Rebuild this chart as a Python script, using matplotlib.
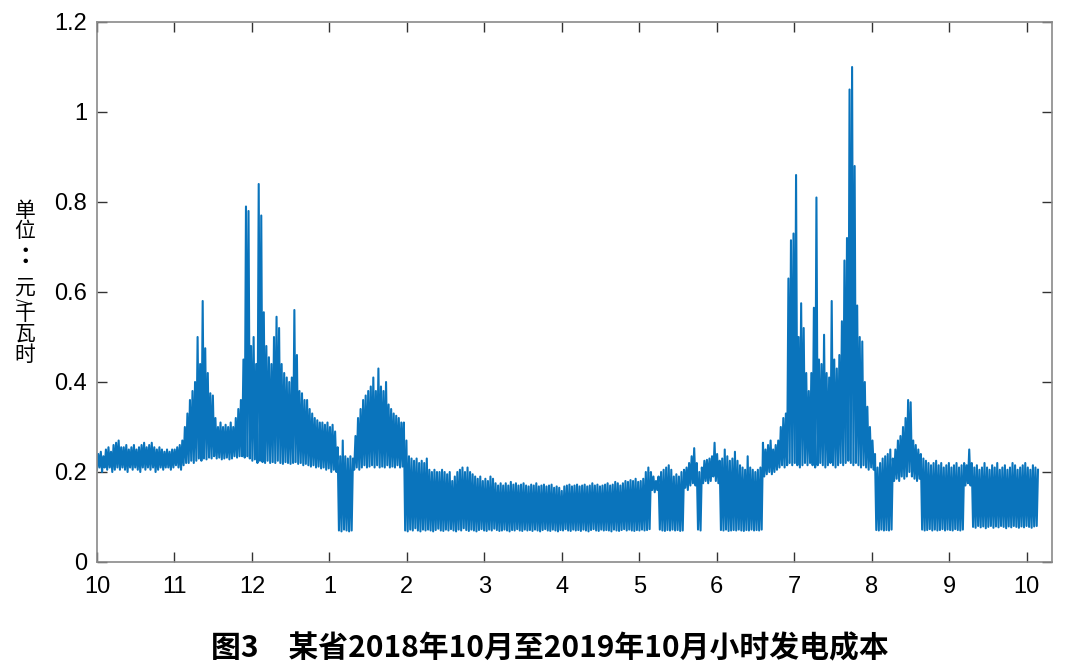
import numpy as np
import matplotlib
matplotlib.use("Agg")
import matplotlib.pyplot as plt

# daily peak / trough of hourly generation cost, Oct 2018 -> Oct 2019 (元/千瓦时)
daily_high = [
    0.24, 0.245, 0.235, 0.25, 0.255, 0.245, 0.26, 0.265, 0.27, 0.255,
    0.255, 0.26, 0.25, 0.255, 0.26, 0.25, 0.255, 0.26, 0.265, 0.255,
    0.26, 0.265, 0.255, 0.25, 0.255, 0.25, 0.245, 0.25, 0.245, 0.25,
    0.25, 0.255, 0.26, 0.27, 0.30, 0.33, 0.36, 0.38, 0.40, 0.50,
    0.44, 0.58, 0.475, 0.42, 0.375, 0.37, 0.32, 0.30, 0.31, 0.30,
    0.305, 0.30, 0.31, 0.30, 0.32, 0.34, 0.36, 0.45, 0.79, 0.78,
    0.48, 0.50, 0.44, 0.84, 0.77, 0.555, 0.48, 0.455, 0.44, 0.50,
    0.545, 0.52, 0.44, 0.42, 0.41, 0.40, 0.41, 0.56, 0.46, 0.38,
    0.375, 0.36, 0.36, 0.34, 0.33, 0.32, 0.315, 0.31, 0.31, 0.305,
    0.31, 0.30, 0.305, 0.29, 0.255, 0.235, 0.27, 0.235, 0.23, 0.235,
    0.23, 0.28, 0.32, 0.34, 0.36, 0.37, 0.38, 0.39, 0.41, 0.38,
    0.43, 0.39, 0.38, 0.40, 0.35, 0.34, 0.33, 0.325, 0.32, 0.31,
    0.31, 0.27, 0.235, 0.23, 0.225, 0.23, 0.22, 0.225, 0.22, 0.23,
    0.205, 0.20, 0.205, 0.20, 0.20, 0.205, 0.20, 0.195, 0.20, 0.18,
    0.19, 0.20, 0.205, 0.21, 0.20, 0.21, 0.20, 0.195, 0.19, 0.185,
    0.19, 0.18, 0.185, 0.18, 0.19, 0.185, 0.175, 0.17, 0.175, 0.17,
    0.175, 0.17, 0.178, 0.172, 0.175, 0.17, 0.172, 0.175, 0.17, 0.168,
    0.172, 0.17, 0.175, 0.168, 0.17, 0.172, 0.168, 0.17, 0.172, 0.165,
    0.168, 0.165, 0.158, 0.168, 0.17, 0.172, 0.168, 0.17, 0.172, 0.168,
    0.17, 0.172, 0.168, 0.17, 0.175, 0.17, 0.172, 0.168, 0.17, 0.172,
    0.175, 0.17, 0.172, 0.178, 0.175, 0.17, 0.175, 0.18, 0.178, 0.182,
    0.18, 0.185, 0.178, 0.18, 0.185, 0.20, 0.21, 0.20, 0.19, 0.18,
    0.19, 0.20, 0.205, 0.21, 0.215, 0.205, 0.19, 0.195, 0.19, 0.20,
    0.205, 0.21, 0.22, 0.235, 0.253, 0.22, 0.20, 0.21, 0.225, 0.227,
    0.23, 0.235, 0.265, 0.24, 0.225, 0.23, 0.25, 0.235, 0.225, 0.23,
    0.245, 0.225, 0.215, 0.21, 0.205, 0.235, 0.21, 0.205, 0.20, 0.205,
    0.21, 0.265, 0.25, 0.26, 0.27, 0.25, 0.26, 0.27, 0.30, 0.32,
    0.33, 0.63, 0.715, 0.73, 0.86, 0.50, 0.575, 0.52, 0.42, 0.38,
    0.42, 0.565, 0.81, 0.45, 0.44, 0.505, 0.42, 0.41, 0.58, 0.45,
    0.43, 0.46, 0.535, 0.67, 0.72, 1.05, 1.10, 0.88, 0.57, 0.50,
    0.49, 0.40, 0.345, 0.30, 0.27, 0.24, 0.21, 0.22, 0.23, 0.235,
    0.24, 0.25, 0.23, 0.25, 0.27, 0.28, 0.30, 0.32, 0.36, 0.355,
    0.27, 0.26, 0.25, 0.24, 0.23, 0.225, 0.22, 0.215, 0.22, 0.225,
    0.215, 0.22, 0.21, 0.215, 0.22, 0.21, 0.215, 0.22, 0.21, 0.215,
    0.22, 0.215, 0.25, 0.22, 0.21, 0.215, 0.205, 0.21, 0.22, 0.21,
    0.205, 0.215, 0.21, 0.22, 0.205, 0.21, 0.215, 0.205, 0.21, 0.22,
    0.215, 0.205, 0.21, 0.215, 0.22, 0.21, 0.205, 0.215, 0.21, 0.205,
]

daily_low = [
    0.205, 0.21, 0.20, 0.21, 0.205, 0.21, 0.20, 0.205, 0.21, 0.205,
    0.21, 0.205, 0.20, 0.21, 0.205, 0.21, 0.205, 0.20, 0.21, 0.205,
    0.21, 0.205, 0.21, 0.20, 0.205, 0.21, 0.205, 0.21, 0.21, 0.205,
    0.21, 0.215, 0.21, 0.205, 0.215, 0.22, 0.22, 0.225, 0.22, 0.225,
    0.23, 0.225, 0.23, 0.228, 0.232, 0.23, 0.235, 0.23, 0.232, 0.228,
    0.23, 0.232, 0.228, 0.23, 0.235, 0.232, 0.235, 0.235, 0.232, 0.235,
    0.23, 0.225, 0.228, 0.22, 0.225, 0.222, 0.22, 0.225, 0.22, 0.222,
    0.22, 0.225, 0.22, 0.218, 0.222, 0.22, 0.218, 0.22, 0.222, 0.218,
    0.22, 0.215, 0.218, 0.215, 0.212, 0.215, 0.21, 0.212, 0.208, 0.21,
    0.205, 0.208, 0.20, 0.205, 0.20, 0.07, 0.068, 0.072, 0.07, 0.068,
    0.07, 0.205, 0.21, 0.205, 0.21, 0.215, 0.21, 0.212, 0.215, 0.21,
    0.215, 0.21, 0.212, 0.21, 0.215, 0.21, 0.212, 0.21, 0.215, 0.21,
    0.212, 0.07, 0.068, 0.072, 0.07, 0.075, 0.07, 0.068, 0.072, 0.07,
    0.072, 0.07, 0.068, 0.071, 0.074, 0.07, 0.069, 0.072, 0.07, 0.073,
    0.07, 0.068, 0.072, 0.07, 0.075, 0.071, 0.069, 0.072, 0.07, 0.068,
    0.071, 0.073, 0.07, 0.069, 0.072, 0.07, 0.074, 0.071, 0.069, 0.07,
    0.072, 0.07, 0.068, 0.071, 0.07, 0.073, 0.07, 0.069, 0.072, 0.07,
    0.071, 0.069, 0.072, 0.07, 0.068, 0.071, 0.073, 0.07, 0.069, 0.072,
    0.07, 0.068, 0.071, 0.07, 0.073, 0.07, 0.069, 0.072, 0.07, 0.071,
    0.069, 0.072, 0.07, 0.068, 0.071, 0.073, 0.07, 0.069, 0.072, 0.07,
    0.071, 0.07, 0.068, 0.072, 0.07, 0.069, 0.071, 0.073, 0.07, 0.072,
    0.07, 0.069, 0.071, 0.07, 0.072, 0.07, 0.071, 0.073, 0.16, 0.155,
    0.16, 0.072, 0.07, 0.069, 0.071, 0.07, 0.072, 0.07, 0.071, 0.069,
    0.07, 0.165, 0.16, 0.17, 0.175, 0.17, 0.072, 0.07, 0.175, 0.18,
    0.175, 0.18, 0.19, 0.18, 0.175, 0.071, 0.07, 0.072, 0.069, 0.07,
    0.071, 0.07, 0.072, 0.07, 0.069, 0.071, 0.07, 0.072, 0.07, 0.071,
    0.07, 0.072, 0.19, 0.195, 0.20, 0.195, 0.20, 0.205, 0.21, 0.215,
    0.21, 0.215, 0.22, 0.215, 0.22, 0.215, 0.21, 0.215, 0.22, 0.215,
    0.22, 0.215, 0.21, 0.215, 0.22, 0.215, 0.21, 0.215, 0.22, 0.215,
    0.21, 0.215, 0.22, 0.215, 0.22, 0.225, 0.22, 0.215, 0.22, 0.215,
    0.21, 0.215, 0.21, 0.205, 0.21, 0.205, 0.071, 0.07, 0.072, 0.07,
    0.071, 0.07, 0.072, 0.18, 0.185, 0.18, 0.19, 0.185, 0.19, 0.20,
    0.19, 0.185, 0.18, 0.185, 0.072, 0.07, 0.071, 0.073, 0.07, 0.072,
    0.07, 0.071, 0.073, 0.07, 0.072, 0.071, 0.07, 0.073, 0.071, 0.07,
    0.072, 0.17, 0.175, 0.17, 0.078, 0.076, 0.08, 0.077, 0.079, 0.075,
    0.078, 0.08, 0.076, 0.079, 0.077, 0.08, 0.078, 0.075, 0.079, 0.077,
    0.08, 0.078, 0.076, 0.079, 0.077, 0.08, 0.078, 0.076, 0.079, 0.08,
]

month_labels = ['10', '11', '12', '1', '2', '3', '4', '5', '6', '7', '8', '9', '10']
y_ticks = [0, 0.2, 0.4, 0.6, 0.8, 1.0, 1.2]
y_tick_labels = ['0', '0.2', '0.4', '0.6', '0.8', '1', '1.2']

plt.rcParams['font.family'] = ['Liberation Sans', 'DejaVu Sans']
cjk = ['Noto Sans CJK SC', 'DejaVu Sans']

high = np.array(daily_high)
low = np.array(daily_low)
days = np.arange(len(high))

# one trough and one peak per day -> dense zig-zag like the hourly trace
x = np.column_stack([days, days + 0.5]).ravel()
y = np.column_stack([low, high]).ravel()

fig = plt.figure(figsize=(10.8, 6.64), dpi=100)
ax = fig.add_axes([97 / 1080, 1 - 562 / 664, (1052 - 97) / 1080, (562 - 22) / 664])

ax.plot(x, y, color='#0A74BC', lw=1.5)

ax.set_xlim(0, 375)
ax.set_ylim(0, 1.2)
ax.set_xticks(np.arange(13) * 365 / 12)
ax.set_xticklabels(month_labels)
ax.set_yticks(y_ticks)
ax.set_yticklabels(y_tick_labels)

ax.tick_params(direction='in', length=7, width=1, color='#333333',
               top=True, right=True, labelsize=17, labelcolor='black')
ax.tick_params(axis='x', pad=10)
ax.tick_params(axis='y', pad=7)
for s in ax.spines.values():
    s.set_color('#8a8a8a')
    s.set_linewidth(1.2)

# vertical unit label, characters upright
fs_lab = 15
lab_x = 25 / 1080
for ch, py in [('单', 211), ('位', 231), ('元', 288), ('千', 314), ('瓦', 334), ('时', 355)]:
    fig.text(lab_x, 1 - py / 664, ch, family=cjk, fontsize=fs_lab, ha='center', va='center')
fig.text(lab_x, 1 - 257 / 664, '\uff1a', family=['Noto Sans CJK TC', 'DejaVu Sans'],
         fontsize=fs_lab + 2, weight='bold', ha='center', va='center')
fig.text(lab_x, 1 - 301 / 664, '/', family=cjk, fontsize=fs_lab - 4, ha='center', va='center', rotation=90)

fig.text(550 / 1080, 1 - 648 / 664, '图3\u3000某省2018年10月至2019年10月小时发电成本',
         family=cjk, fontsize=21.5, weight='bold', ha='center', va='center')

fig.savefig('out.png', dpi=100)
